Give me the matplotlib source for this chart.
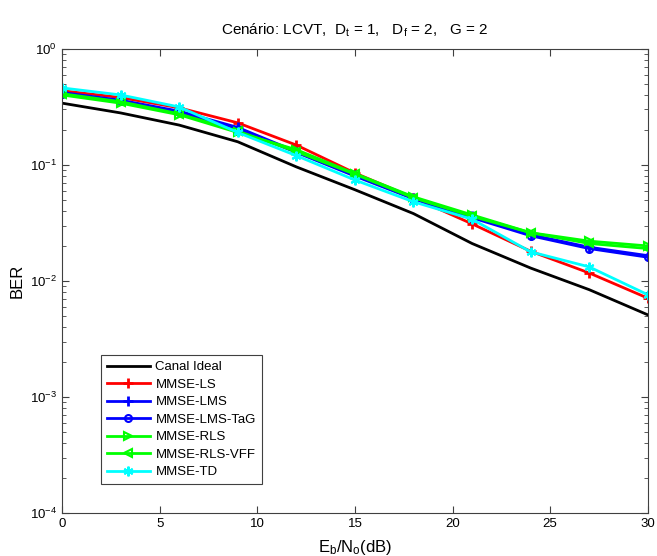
import matplotlib
matplotlib.use("Agg")
import matplotlib.pyplot as plt
from matplotlib.ticker import LogLocator, NullFormatter

plt.rcParams['font.family'] = ['Liberation Sans', 'DejaVu Sans']
plt.rcParams['mathtext.fontset'] = 'custom'
plt.rcParams['mathtext.rm'] = 'Liberation Sans'
plt.rcParams['mathtext.it'] = 'Liberation Sans'

snr = [0, 3, 6, 9, 12, 15, 18, 21, 24, 27, 30]

ber_ideal = [0.34, 0.28, 0.22, 0.158, 0.096, 0.061, 0.038, 0.021, 0.0129, 0.0084, 0.0051]
ber_ls = [0.435, 0.38, 0.31, 0.23, 0.148, 0.085, 0.052, 0.031, 0.018, 0.0117, 0.0071]
ber_lms = [0.42, 0.36, 0.29, 0.21, 0.13, 0.082, 0.052, 0.036, 0.025, 0.0195, 0.0165]
ber_lms_tag = [0.41, 0.355, 0.285, 0.205, 0.128, 0.080, 0.051, 0.035, 0.0245, 0.019, 0.016]
ber_rls = [0.40, 0.34, 0.27, 0.19, 0.135, 0.084, 0.053, 0.037, 0.026, 0.022, 0.020]
ber_rls_vff = [0.41, 0.35, 0.275, 0.195, 0.13, 0.083, 0.052, 0.036, 0.026, 0.021, 0.019]
ber_td = [0.46, 0.40, 0.315, 0.19, 0.12, 0.074, 0.048, 0.034, 0.0178, 0.0132, 0.0076]

labels = ['Canal Ideal', 'MMSE-LS', 'MMSE-LMS', 'MMSE-LMS-TaG',
          'MMSE-RLS', 'MMSE-RLS-VFF', 'MMSE-TD']

fig = plt.figure(figsize=(6.57, 5.56), dpi=100)
ax = fig.add_axes([0.0944, 0.0773, 0.8916, 0.835])

lw = 2.0
asterisk = (6, 2, 0)
ax.semilogy(snr, ber_ideal, color='black', lw=lw, label=labels[0])
ax.semilogy(snr, ber_ls, color='red', lw=lw, marker='+', ms=7, mew=2, label=labels[1])
ax.semilogy(snr, ber_lms, color='blue', lw=lw, marker='+', ms=7, mew=2, label=labels[2])
ax.semilogy(snr, ber_lms_tag, color='blue', lw=lw, marker='o', ms=5, mew=1.5,
            mfc='none', label=labels[3])
ax.semilogy(snr, ber_rls, color='#00ff00', lw=lw, marker='>', ms=6, mew=1.5,
            mfc='none', label=labels[4])
ax.semilogy(snr, ber_rls_vff, color='#00ff00', lw=lw, marker='<', ms=6, mew=1.5,
            mfc='none', label=labels[5])
ax.semilogy(snr, ber_td, color='cyan', lw=lw, marker=asterisk, ms=7, mew=1.5,
            label=labels[6])

ax.set_xlim(0, 30)
ax.set_ylim(1e-4, 1)
ax.set_xticks([0, 5, 10, 15, 20, 25, 30])
ax.yaxis.set_major_locator(LogLocator(base=10, numticks=10))
ax.yaxis.set_minor_locator(LogLocator(base=10, subs=range(2, 10), numticks=20))
ax.yaxis.set_minor_formatter(NullFormatter())
ax.tick_params(which='both', direction='in', top=True, right=True,
               labelsize=9.5, color='#404040')
ax.tick_params(which='major', length=5)
ax.tick_params(which='minor', length=3)
for s in ax.spines.values():
    s.set_color('#404040')
    s.set_linewidth(0.8)

ax.set_title('Cenário: LCVT,  D$_t$ = 1,   D$_f$ = 2,   G = 2', fontsize=11, pad=10)
ax.set_xlabel('E$_b$/N$_o$(dB)', fontsize=12, labelpad=6)
ax.set_ylabel('BER', fontsize=12, labelpad=4)

leg = ax.legend(loc='lower left', bbox_to_anchor=(0.066, 0.062), fontsize=9.5,
                fancybox=False, framealpha=1, edgecolor='#404040',
                handlelength=3.3, borderpad=0.45, labelspacing=0.4,
                handletextpad=0.4, borderaxespad=0)
leg.get_frame().set_linewidth(0.8)

fig.savefig('out.png', dpi=100)
